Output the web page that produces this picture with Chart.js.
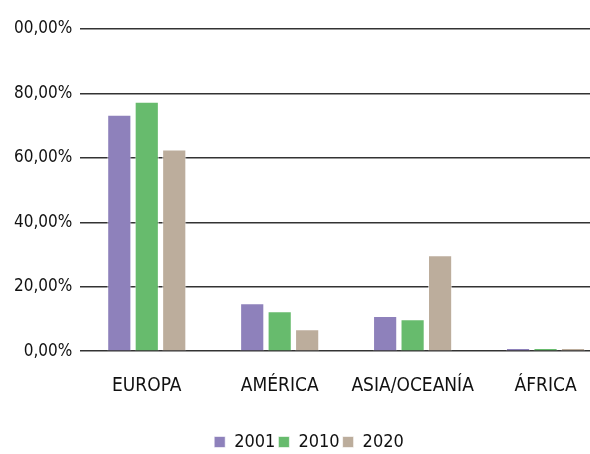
<!DOCTYPE html>
<html>
<head>
<meta charset="utf-8">
<script src="https://cdn.jsdelivr.net/npm/chart.js@4"></script>
<style>
  html, body { margin: 0; padding: 0; background: #fff; overflow: hidden; }
  #wrap { width: 612px; height: 461px; }
</style>
</head>
<body>
<div id="wrap"><canvas id="chart" width="612" height="461"></canvas></div>
<script>
const regions = ['EUROPA', 'AMÉRICA', 'ASIA/OCEANÍA', 'ÁFRICA'];
const years = ['2001', '2010', '2020'];
const v2001 = [73.4, 14.9, 10.9, 1.0];
const v2010 = [77.4, 12.4, 9.9, 1.0];
const v2020 = [62.6, 6.8, 29.8, 1.0];
const tickLabels = ['0,00%', '20,00%', '40,00%', '60,00%', '80,00%', '00,00%'];
const colors = ['#8e81bb', '#67bb6d', '#bcad9c'];

const font = "'DejaVu Sans Condensed', 'Liberation Sans', Arial, sans-serif";
Chart.defaults.font.family = font;
Chart.defaults.color = '#111';

const ctx = document.getElementById('chart').getContext('2d');
new Chart(ctx, {
  type: 'bar',
  data: {
    labels: regions,
    datasets: [v2001, v2010, v2020].map((vals, i) => ({
      label: years[i],
      data: vals,
      backgroundColor: colors[i],
      borderColor: 'rgba(255,255,255,0.6)',
      borderWidth: 1,
      categoryPercentage: 0.62,
      barPercentage: 0.88
    }))
  },
  options: {
    responsive: false,
    animation: false,
    layout: { padding: { top: 29, left: 6, right: 0, bottom: 0 } },
    plugins: {
      legend: {
        position: 'bottom',
        labels: { boxWidth: 11, boxHeight: 11, padding: 3, font: { size: 18 } }
      },
      tooltip: { enabled: false }
    },
    scales: {
      x: {
        grid: { display: false },
        border: { display: false },
        ticks: { font: { size: 19 }, padding: 15, maxRotation: 0, autoSkip: false },
        afterFit: (s) => { s.height += 18; }
      },
      y: {
        min: 0, max: 100,
        border: { display: false },
        grid: { color: '#333', lineWidth: 1.5, drawTicks: false },
        ticks: {
          stepSize: 20,
          padding: 8,
          font: { size: 17 },
          callback: (v, i) => tickLabels[i]
        }
      }
    }
  }
});
</script>
</body>
</html>
